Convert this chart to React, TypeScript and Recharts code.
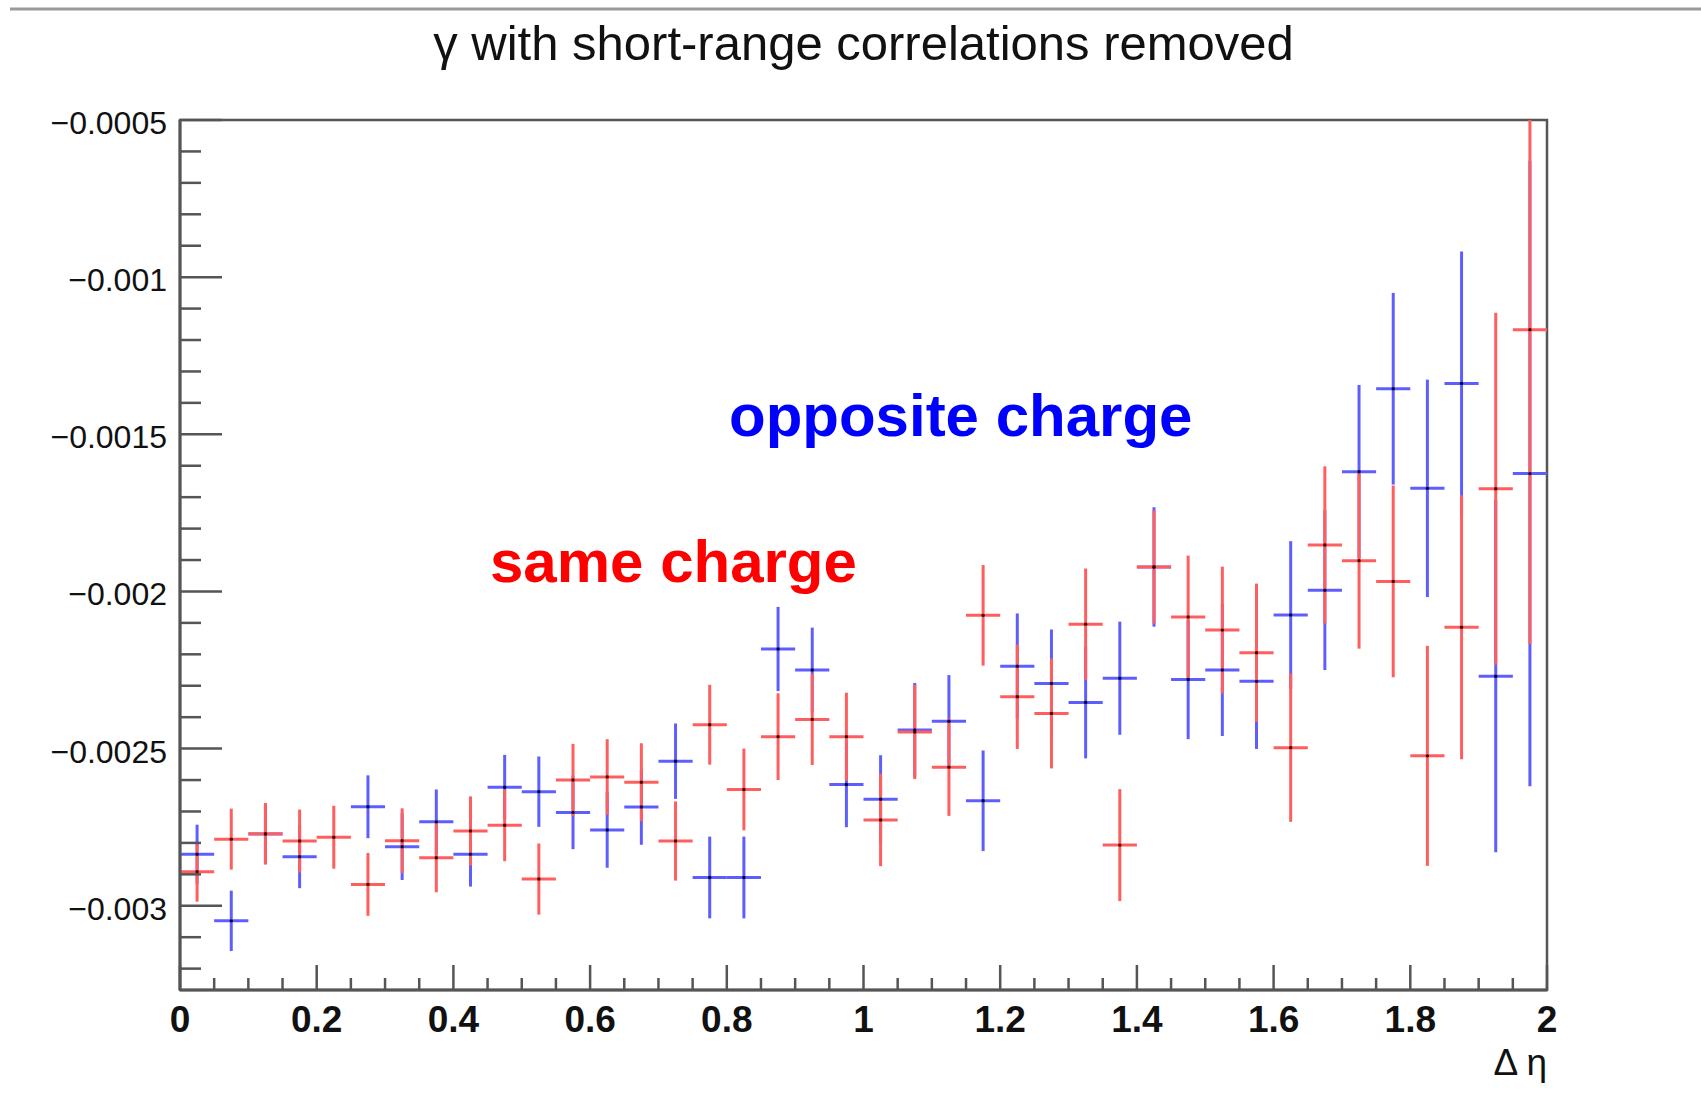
import React from 'react';
import { ComposedChart, Scatter, XAxis, YAxis, ErrorBar, ReferenceArea } from 'recharts';

// Δη bin centres (bin width 0.05)
const BIN_CENTERS = [
  0.025, 0.075, 0.125, 0.175, 0.225, 0.275, 0.325, 0.375, 0.425, 0.475,
  0.525, 0.575, 0.625, 0.675, 0.725, 0.775, 0.825, 0.875, 0.925, 0.975,
  1.025, 1.075, 1.125, 1.175, 1.225, 1.275, 1.325, 1.375, 1.425, 1.475,
  1.525, 1.575, 1.625, 1.675, 1.725, 1.775, 1.825, 1.875, 1.925, 1.975,
];
const BIN_HALF_WIDTH = 0.025;

// same charge: γ per bin and its statistical error
const SAME_VALUES = [
  -0.002892, -0.002788, -0.002771, -0.002794, -0.002782, -0.002932, -0.002793, -0.002847, -0.002762, -0.002744,
  -0.002915, -0.0026, -0.00259, -0.002607, -0.002794, -0.002424, -0.00263, -0.002462, -0.002407, -0.002462,
  -0.002727, -0.002447, -0.002559, -0.002076, -0.002335, -0.002388, -0.002104, -0.002807, -0.001922, -0.002081,
  -0.002123, -0.002195, -0.002497, -0.001852, -0.001902, -0.001968, -0.002523, -0.002114, -0.001673, -0.001167,
];
const SAME_ERRORS = [
  0.000095, 0.000097, 0.000098, 0.0001, 0.0001, 0.0001, 0.000103, 0.00011, 0.00011, 0.000114,
  0.000113, 0.000115, 0.00012, 0.000124, 0.000126, 0.000127, 0.00013, 0.000138, 0.000145, 0.00014,
  0.000147, 0.00015, 0.000155, 0.00016, 0.000166, 0.000175, 0.000177, 0.000178, 0.00018, 0.000195,
  0.000202, 0.00022, 0.000236, 0.00025, 0.00028, 0.000305, 0.00035, 0.00042, 0.00056, 0.001,
];

// opposite charge: γ per bin and its statistical error (bin 5 is empty)
const OPPOSITE_VALUES = [
  -0.002836, -0.003048, -0.002772, -0.002844, null, -0.002685, -0.002812, -0.002733, -0.002836, -0.002623,
  -0.002637, -0.002703, -0.002759, -0.002686, -0.00254, -0.00291, -0.00291, -0.002183, -0.00225, -0.002614,
  -0.002661, -0.002441, -0.002413, -0.002666, -0.002238, -0.002293, -0.002353, -0.002276, -0.001922, -0.00228,
  -0.00225, -0.002286, -0.002075, -0.001996, -0.001619, -0.001355, -0.001672, -0.001338, -0.00227, -0.001625,
];
const OPPOSITE_ERRORS = [
  0.000094, 0.000096, 0.000095, 0.0001, 0, 0.0001, 0.000106, 0.000103, 0.000103, 0.000103,
  0.000112, 0.000117, 0.00012, 0.00012, 0.00012, 0.00013, 0.00013, 0.000134, 0.000135, 0.000136,
  0.00014, 0.00015, 0.000147, 0.00016, 0.000168, 0.000172, 0.000178, 0.00018, 0.00019, 0.00019,
  0.00021, 0.000215, 0.000235, 0.000254, 0.000276, 0.000305, 0.000346, 0.00042, 0.00056, 0.000995,
];

// axis ticks
const X_TICKS = [
  0, 0.05, 0.1, 0.15, 0.2, 0.25, 0.3, 0.35, 0.4, 0.45, 0.5, 0.55, 0.6, 0.65, 0.7, 0.75, 0.8, 0.85, 0.9, 0.95,
  1, 1.05, 1.1, 1.15, 1.2, 1.25, 1.3, 1.35, 1.4, 1.45, 1.5, 1.55, 1.6, 1.65, 1.7, 1.75, 1.8, 1.85, 1.9, 1.95, 2,
];
const X_MAJOR_TICKS = [0, 0.2, 0.4, 0.6, 0.8, 1, 1.2, 1.4, 1.6, 1.8, 2];
const X_TICK_LABELS = ['0', '0.2', '0.4', '0.6', '0.8', '1', '1.2', '1.4', '1.6', '1.8', '2'];

const Y_TICKS = [
  -0.0005, -0.0006, -0.0007, -0.0008, -0.0009, -0.001, -0.0011, -0.0012, -0.0013, -0.0014,
  -0.0015, -0.0016, -0.0017, -0.0018, -0.0019, -0.002, -0.0021, -0.0022, -0.0023, -0.0024,
  -0.0025, -0.0026, -0.0027, -0.0028, -0.0029, -0.003, -0.0031, -0.0032,
];
const Y_MAJOR_TICKS = [-0.0005, -0.001, -0.0015, -0.002, -0.0025, -0.003];
const Y_TICK_LABELS = ['\u22120.0005', '\u22120.001', '\u22120.0015', '\u22120.002', '\u22120.0025', '\u22120.003'];

const X_DOMAIN: [number, number] = [0, 2];
const Y_DOMAIN: [number, number] = [-0.003268, -0.0005];

// layout
const W = 1701;
const H = 1098;
const PLOT_LEFT = 180;
const PLOT_RIGHT = 1547;
const PLOT_TOP = 120;
const PLOT_BOTTOM = 990;
const FONT = '"Liberation Sans", Arial, Helvetica, sans-serif';
const AXIS_COLOR = '#555555';
const SAME_COLOR = '#ff5e5e';
const OPPOSITE_COLOR = '#5e5eff';

// vertical error as [down, up], with the bar stopped at the frame edges
const frameError = (y: number, err: number): [number, number] => [
  Math.min(err, y - Y_DOMAIN[0]),
  Math.min(err, Y_DOMAIN[1] - y),
];

const sameData = BIN_CENTERS.map((x, i) => ({
  x,
  y: SAME_VALUES[i],
  err: frameError(SAME_VALUES[i], SAME_ERRORS[i]),
  xerr: BIN_HALF_WIDTH,
}));
const oppositeData = BIN_CENTERS.map((x, i) => ({ x, y: OPPOSITE_VALUES[i], e: OPPOSITE_ERRORS[i] }))
  .filter((d) => d.y !== null)
  .map((d) => ({ x: d.x, y: d.y as number, err: frameError(d.y as number, d.e), xerr: BIN_HALF_WIDTH }));

const findMajor = (list: number[], v: number) => list.findIndex((m) => Math.abs(m - v) < 1e-9);

const YTick = (props: any) => {
  const { y, payload } = props;
  const idx = findMajor(Y_MAJOR_TICKS, payload.value);
  const major = idx >= 0;
  return (
    <g>
      <line x1={PLOT_LEFT} x2={PLOT_LEFT + (major ? 42 : 21)} y1={y} y2={y} stroke={AXIS_COLOR} strokeWidth={2.5} />
      {major && (
        <text x={167} y={y + 14} textAnchor="end" fontFamily={FONT} fontSize={32} fill="#111">
          {Y_TICK_LABELS[idx]}
        </text>
      )}
    </g>
  );
};

const XTick = (props: any) => {
  const { x, payload } = props;
  const idx = findMajor(X_MAJOR_TICKS, payload.value);
  const major = idx >= 0;
  return (
    <g>
      <line x1={x} x2={x} y1={PLOT_BOTTOM} y2={PLOT_BOTTOM - (major ? 25 : 12)} stroke={AXIS_COLOR} strokeWidth={2.5} />
      {major && (
        <text x={x} y={1032} textAnchor="middle" fontFamily={FONT} fontSize={37} fontWeight="bold" fill="#111">
          {X_TICK_LABELS[idx]}
        </text>
      )}
    </g>
  );
};

const centerDot = (color: string) => (props: any) => (
  <circle cx={props.cx} cy={props.cy} r={1.7} fill={color} />
);

export default function App() {
  return (
    <div style={{ position: 'absolute', left: 0, top: 0, width: W, height: H, background: '#fff' }}>
      <ComposedChart
        width={W}
        height={H}
        margin={{ top: PLOT_TOP, right: W - PLOT_RIGHT, bottom: 0, left: 0 }}
      >
        <XAxis
          type="number"
          dataKey="x"
          domain={X_DOMAIN}
          allowDataOverflow
          ticks={X_TICKS}
          interval={0}
          tick={<XTick />}
          tickLine={false}
          axisLine={{ stroke: AXIS_COLOR, strokeWidth: 3 }}
          height={H - PLOT_BOTTOM}
        />
        <YAxis
          type="number"
          dataKey="y"
          domain={Y_DOMAIN}
          allowDataOverflow
          ticks={Y_TICKS}
          interval={0}
          tick={<YTick />}
          tickLine={false}
          axisLine={{ stroke: AXIS_COLOR, strokeWidth: 3 }}
          width={PLOT_LEFT}
        />
        <ReferenceArea
          x1={X_DOMAIN[0]}
          x2={X_DOMAIN[1]}
          y1={Y_DOMAIN[0]}
          y2={Y_DOMAIN[1]}
          fill="none"
          stroke={AXIS_COLOR}
          strokeWidth={2.5}
          fillOpacity={0}
        />
        <Scatter data={oppositeData} dataKey="y" shape={centerDot('#000040')} isAnimationActive={false}>
          <ErrorBar dataKey="xerr" direction="x" width={0} stroke={OPPOSITE_COLOR} strokeWidth={3} isAnimationActive={false} />
          <ErrorBar dataKey="err" direction="y" width={0} stroke={OPPOSITE_COLOR} strokeWidth={3} isAnimationActive={false} />
        </Scatter>
        <Scatter data={sameData} dataKey="y" shape={centerDot('#400000')} isAnimationActive={false}>
          <ErrorBar dataKey="xerr" direction="x" width={0} stroke={SAME_COLOR} strokeWidth={3} isAnimationActive={false} />
          <ErrorBar dataKey="err" direction="y" width={0} stroke={SAME_COLOR} strokeWidth={3} isAnimationActive={false} />
        </Scatter>
      </ComposedChart>
      <svg width={W} height={H} style={{ position: 'absolute', left: 0, top: 0, pointerEvents: 'none' }}>
        <line x1={10} x2={W} y1={9} y2={9} stroke="#9a9a9a" strokeWidth={3} />
        <text x={(PLOT_LEFT + PLOT_RIGHT) / 2} y={60} textAnchor="middle" fontFamily={FONT} fontSize={49} fill="#111">
          γ with short-range correlations removed
        </text>
        <text x={729} y={436} fontFamily={FONT} fontSize={60} fontWeight="bold" fill="#0000ff">
          opposite charge
        </text>
        <text x={490} y={582} fontFamily={FONT} fontSize={60} fontWeight="bold" fill="#ff0000">
          same charge
        </text>
        <text x={PLOT_RIGHT} y={1075} textAnchor="end" fontFamily={FONT} fontSize={37} fill="#111">
          Δ η
        </text>
      </svg>
    </div>
  );
}
